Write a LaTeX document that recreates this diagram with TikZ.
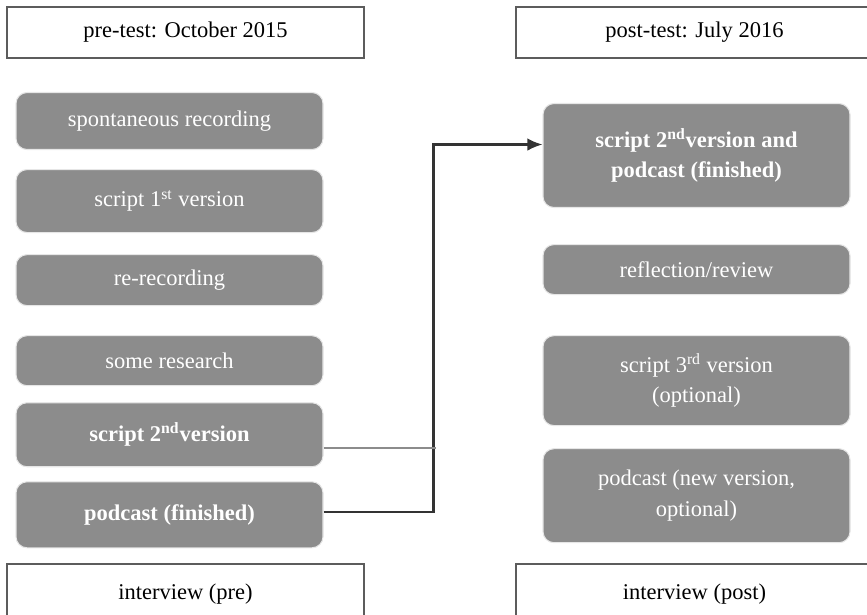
\documentclass[tikz,border=0pt]{standalone}
\usepackage{fontspec}
\setmainfont{Liberation Serif}
\usepackage{tikz}
\usetikzlibrary{arrows.meta, positioning, calc}
\definecolor{boxgray}{HTML}{8C8C8C}
\definecolor{edgegray}{HTML}{E6E6E6}
\definecolor{framegray}{HTML}{5C5C5C}
\definecolor{linkdark}{HTML}{333333}

\begin{document}
\begin{tikzpicture}[
        phase/.style={draw=framegray, line width=1.1pt, rectangle, fill=white, minimum width=7.14cm, minimum height=1.02cm, align=center, anchor=north west, font=\fontsize{12.8}{15}\selectfont},
        block/.style={draw=edgegray, line width=0.6pt, rectangle, rounded corners=0.22cm, fill=boxgray, text=white, minimum width=6.14cm, align=center, font=\fontsize{12.8}{17.5}\selectfont},
        arrow/.style={line width=1.2pt, draw=linkdark, -{Latex[length=3mm,width=2.5mm]}},
        feed/.style={line width=1.3pt, draw=boxgray}
    ]
        \useasboundingbox (0,0) rectangle (17.34,-12.3);

        % Phases
        \node[phase] (pre) at (0.12,-0.12) {pre-test: October 2015};
        \node[phase] (post) at (10.30,-0.12) {post-test: July 2016};
        \node[phase, minimum height=1.2cm] (intpre) at (0.12,-11.26) {\raisebox{0.1cm}{interview (pre)}};
        \node[phase, minimum height=1.2cm] (intpost) at (10.30,-11.26) {\raisebox{0.1cm}{interview (post)}};

        % Blocks (pre)
        \node[block, anchor=north, minimum height=1.14cm] (spont) at (3.39,-1.84) {spontaneous recording};
        \node[block, below=0.38cm of spont, minimum height=1.26cm] (script1) {script 1\textsuperscript{st} version};
        \node[block, below=0.42cm of script1, minimum height=1.02cm] (rerec) {re-recording};
        \node[block, below=0.58cm of rerec, minimum height=1.0cm] (research) {some research};
        \node[block, below=0.32cm of research, minimum height=1.28cm] (script2) {\bfseries script 2\textsuperscript{nd}version};
        \node[block, below=0.28cm of script2, minimum height=1.32cm] (podcast) {\bfseries podcast (finished)};

        % Blocks (post)
        \node[block, anchor=north, minimum height=2.08cm] (combo) at (13.93,-2.06) {\bfseries script 2\textsuperscript{nd}version and\\\bfseries podcast (finished)};
        \node[block, below=0.72cm of combo, minimum height=1.0cm] (review) {reflection/review};
        \node[block, below=0.8cm of review, minimum height=1.8cm] (script3) {script 3\textsuperscript{rd} version\\(optional)};
        \node[block, below=0.44cm of script3, minimum height=1.88cm] (podnew) {podcast (new version,\\optional)};

        % Arrows
        \draw[arrow] ([yshift=0.06cm]podcast.east) -- ++(2.2,0) coordinate (turn) |- ([yshift=0.22cm]combo.west);
        \coordinate (join) at ($(turn |- script2.east)+(0.04,-0.26)$);
        \draw[feed] ([yshift=-0.26cm]script2.east) -- (join);
    \end{tikzpicture}
\end{document}
